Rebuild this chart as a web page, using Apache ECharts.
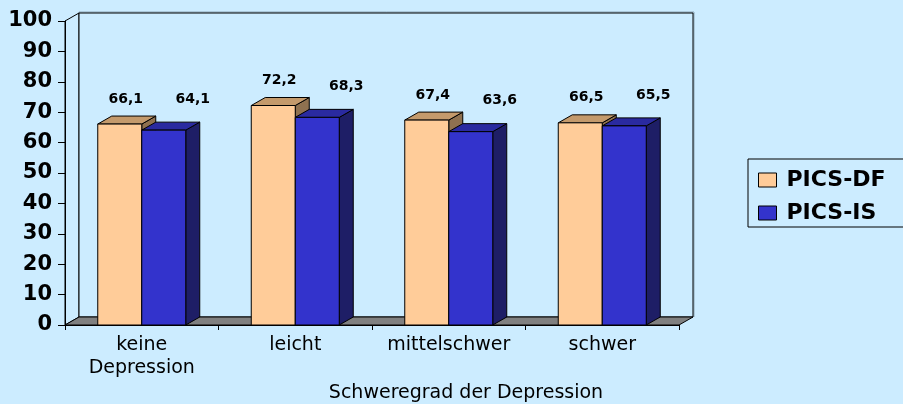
<!DOCTYPE html>
<html>
<head>
<meta charset="utf-8">
<script src="https://cdn.jsdelivr.net/npm/echarts@6/dist/echarts.min.js"></script>
<style>html,body{margin:0;padding:0;background:#CCECFF;}#c{width:903px;height:404px;}</style>
</head>
<body>
<div id="c"></div>
<script>
const categories = ['keine\nDepression', 'leicht', 'mittelschwer', 'schwer'];
const picsDF = [66.1, 72.2, 67.4, 66.5];
const picsIS = [64.1, 68.3, 63.6, 65.5];
const yTicks = [0, 10, 20, 30, 40, 50, 60, 70, 80, 90, 100];
const seriesNames = ['PICS-DF', 'PICS-IS'];
const axisTitle = 'Schweregrad der Depression';

const BG = '#CCECFF';
const DX = 14, DY = -8;
const BAR_FRAC = 44 / 153.5;

const styles = {
  'PICS-DF': { front: '#FFCC99', top: '#C49A6C', side: '#8F7150', side0: -1, lx: 6, ly: -25 },
  'PICS-IS': { front: '#3333CC', top: '#2A2AA0', side: '#1E1E66', side0: 0, lx: 29, ly: -31 }
};

function fmt(v) { return v.toFixed(1).replace('.', ','); }

function barRender(name) {
  const s = styles[name];
  return function (params, api) {
    const idx = api.value(0), val = api.value(1);
    const c = api.coord([idx, val]);
    const b = api.coord([idx, 0]);
    const bw = api.size([1, 0])[0] * BAR_FRAC;
    const x1 = s.side0 < 0 ? c[0] - bw : c[0];
    const x2 = x1 + bw;
    const yt = c[1], yb = b[1];
    const ls = { stroke: '#000', lineWidth: 1 };
    return {
      type: 'group',
      children: [
        { type: 'polygon', shape: { points: [[x2, yt], [x2 + DX, yt + DY], [x2 + DX, yb + DY], [x2, yb]] }, style: Object.assign({ fill: s.side }, ls) },
        { type: 'polygon', shape: { points: [[x1, yt], [x1 + DX, yt + DY], [x2 + DX, yt + DY], [x2, yt]] }, style: Object.assign({ fill: s.top }, ls) },
        { type: 'rect', shape: { x: x1, y: yt, width: bw, height: yb - yt }, style: Object.assign({ fill: s.front }, ls) },
        { type: 'text', x: (x1 + x2) / 2 + s.lx, y: yt + s.ly,
          style: { text: fmt(val), align: 'center', verticalAlign: 'middle', fill: '#000',
                   font: 'bold 14px "DejaVu Sans"' } }
      ]
    };
  };
}

function wallRender(params, api) {
  const cs = params.coordSys;
  const x0 = cs.x, y0 = cs.y, x1 = cs.x + cs.width, yb = cs.y + cs.height;
  const ls = { stroke: '#000', lineWidth: 1 };
  return {
    type: 'group',
    children: [
      { type: 'polyline', shape: { points: [[x0 + DX, yb + DY], [x0 + DX, y0 + DY - 1], [x1 + DX + 1, y0 + DY - 1], [x1 + DX + 1, yb + DY]] }, style: { stroke: '#8AA4B4', lineWidth: 1, fill: null } },
      { type: 'polygon', shape: { points: [[x0, y0], [x0 + DX, y0 + DY], [x0 + DX, yb + DY], [x0, yb]] }, style: Object.assign({ fill: BG }, ls) },
      { type: 'rect', shape: { x: x0 + DX, y: y0 + DY, width: cs.width, height: cs.height }, style: Object.assign({ fill: BG }, ls) },
      { type: 'polygon', shape: { points: [[x0, yb], [x0 + DX, yb + DY], [x1 + DX, yb + DY], [x1, yb]] }, style: Object.assign({ fill: '#808080' }, ls) }
    ]
  };
}

const chart = echarts.init(document.getElementById('c'), null, { renderer: 'canvas' });
chart.setOption({
  backgroundColor: BG,
  animation: false,
  grid: { left: 65, top: 21, width: 614, height: 304, containLabel: false },
  legend: {
    orient: 'vertical', left: 748, top: 159,
    padding: [10, 60, 3, 10], itemGap: 11,
    itemWidth: 18, itemHeight: 14,
    borderColor: '#000', borderWidth: 1, backgroundColor: BG,
    textStyle: { fontFamily: 'DejaVu Sans', fontWeight: 'bold', fontSize: 22, color: '#000', padding: [0, 0, 0, 5] },
    data: [
      { name: seriesNames[0], icon: 'rect', itemStyle: { color: styles['PICS-DF'].front, borderColor: '#000', borderWidth: 1 } },
      { name: seriesNames[1], icon: 'rect', itemStyle: { color: styles['PICS-IS'].front, borderColor: '#000', borderWidth: 1 } }
    ]
  },
  xAxis: {
    type: 'category', data: categories, boundaryGap: true,
    axisLine: { show: true, lineStyle: { color: '#000', width: 1 } },
    axisTick: { show: true, length: 5, alignWithLabel: false, lineStyle: { color: '#000' } },
    axisLabel: { margin: 9, fontFamily: 'DejaVu Sans', fontSize: 19, lineHeight: 23, color: '#000', interval: 0 },
    splitLine: { show: false }
  },
  yAxis: {
    type: 'value', min: yTicks[0], max: yTicks[yTicks.length - 1], interval: 10,
    axisLine: { show: true, lineStyle: { color: '#000', width: 1 } },
    axisTick: { show: true, length: 7, inside: false, lineStyle: { color: '#000' } },
    axisLabel: { margin: 13, fontFamily: 'DejaVu Sans', fontWeight: 'bold', fontSize: 21, color: '#000' },
    splitLine: { show: false }
  },
  graphic: [
    { type: 'text', x: 466, y: 393, z: 10,
      style: { text: axisTitle, align: 'center', verticalAlign: 'middle', font: '19px "DejaVu Sans"', fill: '#000' } }
  ],
  series: [
    { type: 'custom', name: '_walls', renderItem: wallRender, data: [[0, 0]], z: 0, silent: true, clip: false,
      encode: { x: 0, y: 1 } },
    { type: 'custom', name: seriesNames[0], renderItem: barRender(seriesNames[0]), z: 2, clip: false,
      itemStyle: { color: styles['PICS-DF'].front },
      data: picsDF.map((v, i) => [i, v]), encode: { x: 0, y: 1 } },
    { type: 'custom', name: seriesNames[1], renderItem: barRender(seriesNames[1]), z: 3, clip: false,
      itemStyle: { color: styles['PICS-IS'].front },
      data: picsIS.map((v, i) => [i, v]), encode: { x: 0, y: 1 } }
  ]
});
</script>
</body>
</html>
